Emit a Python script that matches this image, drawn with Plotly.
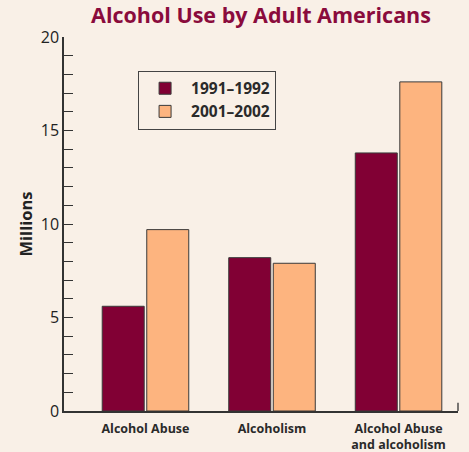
import plotly.graph_objects as go

categories = ["Alcohol Abuse", "Alcoholism", "Alcohol Abuse<br>and alcoholism"]
series_names = ["1991–1992", "2001–2002"]
values_1991 = [5.6, 8.2, 13.8]
values_2001 = [9.7, 7.9, 17.6]
y_ticks = [0, 5, 10, 15, 20]

BG = "#F9F0E7"
DARK = "#810034"
LIGHT = "#FDB47F"
TITLE = "#8A0B3C"
AXIS = "#333333"
FONT = "Open Sans"

fig = go.Figure()
fig.add_trace(go.Bar(x=categories, y=values_1991, name="<b>" + series_names[0] + "</b>",
                     marker=dict(color=DARK, line=dict(color="#3a3a3a", width=1))))
fig.add_trace(go.Bar(x=categories, y=values_2001, name="<b>" + series_names[1] + "</b>",
                     marker=dict(color=LIGHT, line=dict(color="#3a3a3a", width=1))))

fig.update_layout(
    width=469, height=452,
    paper_bgcolor=BG, plot_bgcolor=BG,
    margin=dict(l=64, r=11, t=37, b=41),
    barmode="group", bargap=0.296, bargroupgap=0.057,
    title=dict(text="<b>Alcohol Use by Adult Americans</b>", x=0.5, xref="paper",
               y=0.965, yanchor="middle",
               font=dict(family=FONT, size=21.5, color=TITLE)),
    font=dict(family=FONT, color="#222222"),
    showlegend=True,
    legend=dict(x=0.188, y=0.91, xanchor="left", yanchor="top",
                bgcolor=BG, bordercolor="#444444", borderwidth=1,
                font=dict(family=FONT, size=15.5, color="#2a2a2a"),
                itemwidth=42, tracegroupgap=4),
)
fig.update_xaxes(range=[-0.644, 2.47], showline=True, linecolor=AXIS, linewidth=1.5,
                 ticks="", showgrid=False, zeroline=False, automargin=False,
                 ticklabelstandoff=5,
                 tickvals=categories, ticktext=["<b>" + c + "</b>" for c in categories],
                 tickfont=dict(family=FONT, size=12.5, color="#2a2a2a"))
fig.update_yaxes(range=[0, 20], tickvals=y_ticks, showline=True, linecolor=AXIS, linewidth=1.5,
                 ticks="inside", ticklen=9, tickcolor=AXIS, tickwidth=1.2,
                 minor=dict(dtick=1, ticks="inside", ticklen=9, tickcolor=AXIS, tickwidth=1.2, showgrid=False),
                 showgrid=False, zeroline=False, automargin=False,
                 tickfont=dict(family=FONT, size=16, color="#222222"),
                 title=dict(text="<b>Millions</b>", font=dict(family=FONT, size=16.5, color="#222222"), standoff=4))
# small end tick at right of x axis
fig.add_shape(type="line", xref="paper", yref="paper", x0=1, x1=1, y0=0, y1=0.022,
              line=dict(color=AXIS, width=1.3))

fig.write_html("out.html")
